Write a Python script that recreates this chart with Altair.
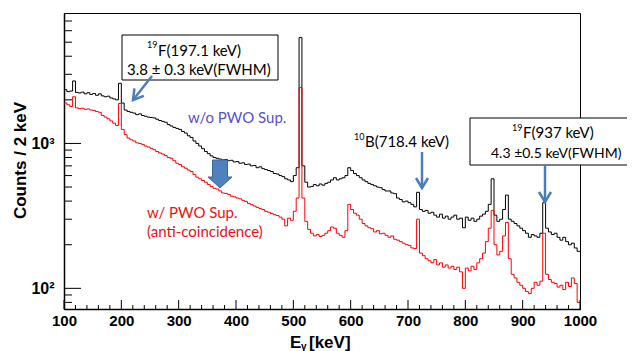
import altair as alt
import pandas as pd

# ---------------- data (5 keV bins) ----------------
bin_start = list(range(100, 1000, 5))

counts_without = [
    2350, 2280, 2300, 2700, 2250, 2230, 2260, 2200, 2240, 2180,
    2210, 2150, 2200, 2130, 2100, 2120, 2060, 2030, 2000, 2600,
    1900, 1700, 1660, 1640, 1620, 1580, 1600, 1560, 1540, 1520,
    1510, 1500, 1470, 1440, 1420, 1400, 1350, 1320, 1290, 1270,
    1250, 1210, 1180, 1130, 1100, 1040, 1000, 960, 920, 880,
    850, 820, 800, 790, 780, 770, 775, 760, 765, 745,
    750, 730, 735, 715, 720, 700, 705, 680, 690, 670,
    660, 650, 640, 620, 615, 600, 590, 570, 560, 545,
    600, 680, 5380, 700, 540, 500, 505, 520, 510, 525,
    515, 530, 540, 560, 580, 560, 570, 580, 600, 680,
    650, 620, 600, 580, 560, 545, 530, 520, 510, 500,
    495, 480, 470, 470, 455, 450, 420, 410, 395, 400,
    390, 380, 365, 460, 350, 340, 345, 330, 335, 320,
    310, 325, 305, 315, 300, 310, 320, 300, 305, 262,
    310, 295, 305, 290, 300, 315, 325, 340, 380, 570,
    320, 290, 300, 350, 440, 300, 290, 280, 270, 260,
    250, 240, 225, 235, 230, 225, 240, 390, 260, 245,
    235, 240, 225, 215, 225, 210, 200, 205, 190, 180,
]

counts_with = [
    1900, 1850, 1800, 2100, 1760, 1740, 1750, 1720, 1730, 1700,
    1690, 1660, 1640, 1560, 1520, 1480, 1430, 1380, 1330, 1890,
    1250, 1150, 1090, 1060, 1040, 1010, 1000, 985, 960, 945,
    925, 905, 880, 860, 845, 825, 800, 790, 760, 730,
    715, 690, 675, 655, 640, 610, 585, 570, 555, 540,
    520, 505, 490, 485, 470, 455, 452, 445, 432, 428,
    420, 415, 405, 398, 385, 378, 370, 362, 355, 350,
    340, 335, 328, 322, 318, 310, 300, 270, 305, 295,
    340, 420, 2430, 420, 290, 255, 240, 230, 235, 228,
    232, 240, 250, 265, 260, 240, 232, 225, 250, 380,
    350, 330, 320, 300, 280, 270, 262, 258, 245, 250,
    238, 240, 232, 225, 230, 218, 215, 210, 205, 200,
    198, 190, 188, 300, 175, 168, 160, 155, 150, 158,
    145, 150, 140, 145, 138, 142, 135, 140, 130, 100,
    138, 132, 142, 135, 150, 160, 175, 210, 260, 345,
    200, 170, 180, 230, 285, 160, 125, 118, 110, 105,
    100, 95, 92, 100, 110, 105, 112, 240, 125, 115,
    110, 108, 102, 105, 98, 110, 103, 118, 108, 80,
]
assert len(counts_without) == len(bin_start) == len(counts_with)

x_major_ticks = [100, 200, 300, 400, 500, 600, 700, 800, 900, 1000]
x_minor_ticks = [v for v in range(100, 1001, 20) if v % 100 != 0]
y_major_ticks = [100, 1000]
y_minor_ticks = [80, 90, 200, 300, 400, 500, 600, 700, 800, 900,
                 2000, 3000, 4000, 5000, 6000, 7000]

# ---------------- layout ----------------
W, H = 516, 296
AX_FONT = "Liberation Sans"
ANN_FONT = "Lato"
BLUE = "#4a7ebb"

x_scale = alt.Scale(domain=[100, 1000], nice=False, zero=False)
y_scale = alt.Scale(type="log", domain=[72, 7950], nice=False)


def hist_df(vals):
    return pd.DataFrame({"E": bin_start + [1000], "c": vals + [vals[-1]]})


x_axis = alt.Axis(values=x_major_ticks, format="d", ticks=False, grid=False,
                  labelPadding=4, labelFontSize=15, labelFont=AX_FONT,
                  labelFontWeight="bold", labelColor="black", labelFlush=False,
                  domainColor="black", domainWidth=1.5, title=None)
y_axis = alt.Axis(values=y_major_ticks,
                  labelExpr="datum.value == 100 ? '10²' : '10³'",
                  ticks=False, grid=False, labelPadding=10, labelFontSize=16,
                  labelFont=AX_FONT, labelFontWeight="bold", labelColor="black",
                  domainColor="black", domainWidth=1.5,
                  title="Counts / 2 keV", titleX=-44, titleY=147, titleAngle=270,
                  titleAlign="center", titleBaseline="middle", titleFontSize=17,
                  titleFont=AX_FONT, titleFontWeight="bold", titleColor="black")

X = alt.X("E:Q", scale=x_scale, axis=x_axis)
Y = alt.Y("c:Q", scale=y_scale, axis=y_axis)

black = alt.Chart(hist_df(counts_without)).mark_line(
    interpolate="step-after", color="black", strokeWidth=1
).encode(x=X, y=Y)

red = alt.Chart(hist_df(counts_with)).mark_line(
    interpolate="step-after", color="#ff0000", strokeWidth=1
).encode(x=X, y=Y)


def xticks(vals, length):
    return alt.Chart(pd.DataFrame({"E": vals})).mark_rule(color="black", strokeWidth=1).encode(
        x=X, y=alt.value(H), y2=alt.value(H - length))


def yticks(vals, length):
    return alt.Chart(pd.DataFrame({"c": vals})).mark_rule(color="black", strokeWidth=1).encode(
        y=Y, x=alt.value(0), x2=alt.value(length))


one = pd.DataFrame({"k": [0]})


def txt(s, x, y, size=15, color="black", font=ANN_FONT, weight="normal", align="left"):
    return alt.Chart(one).mark_text(text=s, align=align, baseline="alphabetic",
                                    fontSize=size, font=font, fontWeight=weight,
                                    color=color).encode(x=alt.value(x), y=alt.value(y))


def box(x1, x2, y1, y2):
    return alt.Chart(one).mark_rect(fill="white", stroke="black", strokeWidth=1).encode(
        x=alt.value(x1), x2=alt.value(x2), y=alt.value(y1), y2=alt.value(y2))


def line(x1, y1, x2, y2):
    return alt.Chart(one).mark_rule(color=BLUE, strokeWidth=2.5).encode(
        x=alt.value(x1), y=alt.value(y1), x2=alt.value(x2), y2=alt.value(y2))


V_HEAD = "M -0.6 1 L 0 0 L 0.6 1"


def head(x, y, angle):
    return alt.Chart(one).mark_point(shape=V_HEAD, filled=False, stroke=BLUE,
                                     strokeWidth=2.5, size=400, opacity=1,
                                     angle=angle).encode(x=alt.value(x), y=alt.value(y))


BLOCK = ("M -0.625 -1.167 L 0.625 -1.167 L 0.625 0.25 L 1 0.25 L 0 1.167 "
         "L -1 0.25 L -0.625 0.25 Z")
block_arrow = alt.Chart(one).mark_point(shape=BLOCK, filled=True, fill="#4f81bd",
                                        stroke="#3a679c", strokeWidth=1, size=576,
                                        opacity=1).encode(x=alt.value(156), y=alt.value(161))

layers = [
    black, red,
    xticks(x_major_ticks, 9), xticks(x_minor_ticks, 4),
    yticks(y_major_ticks, 17), yticks(y_minor_ticks, 8),
    # box 1: 19F 197.1 keV
    box(58, 214, 22, 67),
    txt("19", 83, 35, size=9),
    txt("F(197.1 keV)", 94, 43),
    txt("3.8 ± 0.3 keV(FWHM)", 63, 62),
    line(88, 63, 69, 87), head(69, 87, 218),
    # labels
    txt("w/o PWO Sup.", 124, 110, color="#5a4fcf"),
    block_arrow,
    txt("w/ PWO Sup.", 83, 205, color="#f01010"),
    txt("(anti-coincidence)", 83, 224, color="#f01010"),
    # 10B
    txt("10", 290, 127, size=9),
    txt("B(718.4 keV)", 301, 134),
    line(358, 139, 358, 175), head(358, 175, 180),
    # box 2: 19F 937 keV
    box(406, 600, 105, 152),
    txt("19", 448, 118, size=9),
    txt("F(937 keV)", 459, 125),
    txt("4.3 ±0.5 keV(FWHM)", 427, 145, size=14),
    line(481, 152, 481, 189), head(481, 189, 180),
    # x axis title
    txt("E", 226, 335, size=17, font=AX_FONT, weight="bold"),
    txt("γ", 237, 337, size=10, font=AX_FONT, weight="bold"),
    txt("[keV]", 245, 335, size=17, font=AX_FONT, weight="bold"),
]

chart = alt.layer(*layers).properties(
    width=W, height=H,
    autosize=alt.AutoSizeParams(type="none"),
    padding={"left": 56, "top": 5, "right": 47, "bottom": 44},
).configure_view(stroke="black", strokeWidth=1)

chart.save("out.html", embed_options={"renderer": "svg", "actions": False})
